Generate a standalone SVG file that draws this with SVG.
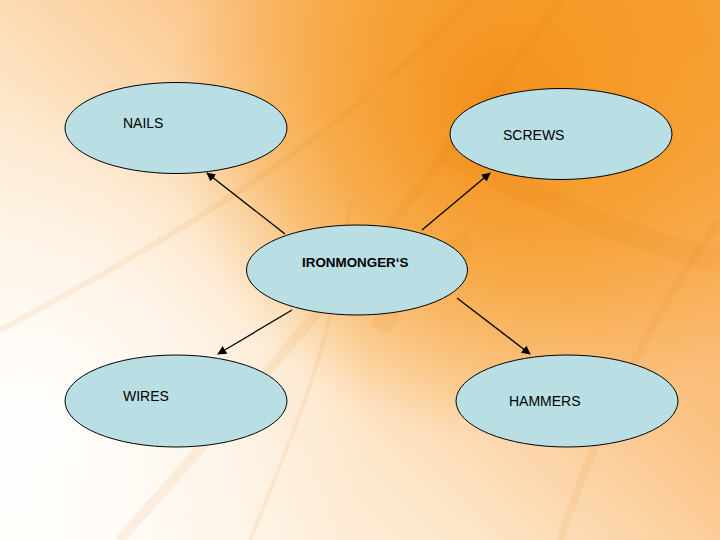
<svg xmlns="http://www.w3.org/2000/svg" width="720" height="540" viewBox="0 0 720 540">
<defs>
<linearGradient id="bg" x1="0" y1="0.9" x2="1" y2="0.1">
<stop offset="0" stop-color="#fffaf3"/>
<stop offset="0.35" stop-color="#fde6c9"/>
<stop offset="0.65" stop-color="#fbc283"/>
<stop offset="1" stop-color="#f8a443"/>
</linearGradient>
<radialGradient id="glow1" gradientUnits="userSpaceOnUse" cx="500" cy="110" r="330">
<stop offset="0" stop-color="#f38b12" stop-opacity="0.9"/>
<stop offset="0.5" stop-color="#f4920f" stop-opacity="0.55"/>
<stop offset="1" stop-color="#f4920f" stop-opacity="0"/>
</radialGradient>
<radialGradient id="glowL" gradientUnits="userSpaceOnUse" cx="40" cy="420" r="330">
<stop offset="0" stop-color="#ffffff" stop-opacity="0.9"/>
<stop offset="1" stop-color="#ffffff" stop-opacity="0"/>
</radialGradient>
<marker id="ah" viewBox="0 0 10 10" refX="9" refY="5" markerWidth="9" markerHeight="9" markerUnits="userSpaceOnUse" orient="auto">
<path d="M0,0 L10,5 L0,10 z" fill="#000"/>
</marker>
<style>
.node ellipse{fill:#b9dfe5;stroke:#000;stroke-width:1}
.node text{font-family:"Liberation Sans",Arial,sans-serif;font-size:14px;fill:#000}
.conn line{stroke:#000;stroke-width:1.3;marker-end:url(#ah)}
.streak{fill:none;stroke:#e27c08;stroke-opacity:0.09}
</style>
</defs>
<rect width="720" height="540" fill="url(#bg)"/>
<rect width="720" height="540" fill="url(#glow1)"/>
<rect width="720" height="540" fill="url(#glowL)"/>
<g id="background-streaks">
<path class="streak" stroke-width="10" d="M120,540 C260,380 380,250 560,0"/>
<path class="streak" stroke-width="6" d="M0,330 C150,250 330,150 470,0"/>
<path class="streak" stroke-width="24" d="M440,150 C530,190 620,240 720,260"/>
<path class="streak" stroke-width="8" d="M560,540 C600,420 660,300 720,220"/>
<path class="streak" stroke-width="20" d="M380,330 C400,290 420,260 470,240"/>
<path class="streak" stroke-width="4" d="M250,540 C300,420 340,320 350,200"/>
</g>
<g class="conn" id="connectors">
<line x1="285" y1="234" x2="207" y2="173"/>
<line x1="422" y1="230" x2="490" y2="173"/>
<line x1="292" y1="310" x2="218" y2="354"/>
<line x1="457" y1="298" x2="530" y2="354"/>
</g>
<g class="node" id="nails">
<ellipse cx="176" cy="128" rx="111" ry="45.5"/>
<text x="123" y="128">NAILS</text>
</g>
<g class="node" id="screws">
<ellipse cx="561" cy="134" rx="111" ry="45.5"/>
<text x="503" y="140">SCREWS</text>
</g>
<g class="node" id="ironmongers">
<ellipse cx="357" cy="270" rx="110.5" ry="45"/>
<text x="302" y="267" font-weight="bold" style="font-size:13.4px">IRONMONGER‘S</text>
</g>
<g class="node" id="wires">
<ellipse cx="176" cy="401" rx="111" ry="46"/>
<text x="123" y="401">WIRES</text>
</g>
<g class="node" id="hammers">
<ellipse cx="567" cy="401" rx="111" ry="46"/>
<text x="509" y="406">HAMMERS</text>
</g>
</svg>
